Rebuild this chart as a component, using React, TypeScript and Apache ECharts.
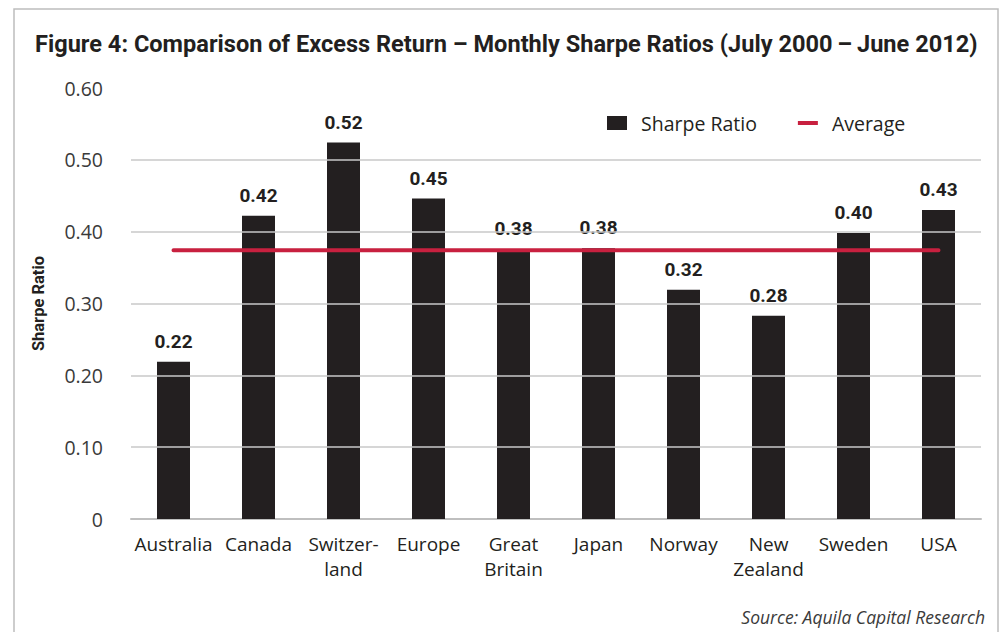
import React, { useEffect, useRef } from "react";
import * as echarts from "echarts";

const categories = ["Australia", "Canada", "Switzer-\nland", "Europe", "Great\nBritain", "Japan", "Norway", "New\nZealand", "Sweden", "USA"];
const sharpeValues = [0.219, 0.422, 0.524, 0.446, 0.376, 0.377, 0.319, 0.283, 0.398, 0.430];
const averageValue = 0.374;
const averageLine = categories.map(() => averageValue);
const gridValues = [0.1, 0.2, 0.3, 0.4, 0.5];
const titleText = "Figure 4: Comparison of Excess Return \u2013 Monthly Sharpe Ratios (July 2000\u2009\u2013\u2009June 2012)";
const sourceText = "Source: Aquila Capital Research";

const BAR = "#231f20";
const RED = "#c8203f";
const TXT = "#231f20";
const BOLDF = "Roboto, 'Noto Sans', sans-serif";
const REGULAR = "'Open Sans', 'Noto Sans', sans-serif";

function measure(text: string, font: string): number {
  const c = document.createElement("canvas").getContext("2d");
  if (!c) return 0;
  c.font = font;
  return c.measureText(text).width;
}

export default function App() {
  const ref = useRef<HTMLDivElement>(null);
  useEffect(() => {
    if (!ref.current) return;
    const chart = echarts.init(ref.current, null, { renderer: "svg" });
    const titleFont = "bold 24px Roboto";
    const tw = measure(titleText, titleFont) || 1000;
    const titleScale = 943 / tw;
    chart.setOption({
      animation: false,
      backgroundColor: "#ffffff",
      legend: {
        left: 602,
        top: 108,
        itemWidth: 20,
        itemHeight: 14,
        itemGap: 41,
        textStyle: { fontFamily: REGULAR, fontSize: 19.5, color: TXT, padding: [0, 0, 0, 9] },
        data: [
          { name: "Sharpe Ratio", icon: "rect" },
          { name: "Average", icon: "path://M0,0 L20,0 L20,4 L0,4 Z" },
        ],
      },
      graphic: [
        {
          type: "rect",
          shape: { x: 14, y: 9, width: 984, height: 700 },
          style: { fill: "none", stroke: "#bdbdbd", lineWidth: 1.5 },
          silent: true,
        },
        {
          type: "text",
          x: 35,
          y: 44,
          scaleX: titleScale,
          style: {
            text: titleText,
            x: 0,
            y: 0,
            font: titleFont,
            fill: TXT,
            align: "left",
            verticalAlign: "middle",
          },
          silent: true,
        },
        {
          type: "text",
          right: 20,
          top: 608,
          style: { text: sourceText, fontFamily: REGULAR, fontStyle: "italic", fontSize: 17.5, fill: "#3a3a3a" },
        },
      ],
      grid: { left: 131, right: 24, top: 88, bottom: 113 },
      xAxis: {
        type: "category",
        data: categories,
        axisLine: { lineStyle: { color: "#bfbfbf", width: 2 } },
        axisTick: { show: false },
        axisLabel: { fontFamily: REGULAR, fontSize: 19, color: TXT, lineHeight: 25, margin: 12, interval: 0 },
      },
      yAxis: {
        type: "value",
        min: 0,
        max: 0.6,
        interval: 0.1,
        name: "Sharpe Ratio",
        nameLocation: "middle",
        nameGap: 84,
        nameTextStyle: { fontFamily: BOLDF, fontWeight: "bold", fontSize: 16.5, color: TXT },
        axisLine: { show: false },
        axisTick: { show: false },
        splitLine: { show: false },
        axisLabel: {
          fontFamily: REGULAR,
          fontSize: 19.5,
          color: "#3a3a3a",
          margin: 28,
          formatter: (v: number) => (v === 0 ? "0" : v.toFixed(2)),
        },
      },
      series: [
        {
          name: "gridlines",
          type: "line",
          data: [],
          z: 1,
          silent: true,
          markLine: {
            silent: true,
            symbol: "none",
            label: { show: false },
            lineStyle: { color: "#c8c8c8", width: 1.5, type: "solid" },
            data: gridValues.map((v) => ({ yAxis: v })),
          },
        },
        {
          name: "Sharpe Ratio",
          type: "bar",
          data: sharpeValues,
          barWidth: 33,
          z: 2,
          itemStyle: { color: BAR },
          label: {
            show: true,
            position: "top",
            distance: 11,
            fontFamily: BOLDF,
            fontWeight: "bold",
            fontSize: 19,
            color: TXT,
            formatter: (p: any) => p.value.toFixed(2),
          },
        },
        {
          name: "Average",
          type: "line",
          data: averageLine,
          z: 3,
          symbol: "none",
          lineStyle: { color: RED, width: 4, cap: "round" },
          itemStyle: { color: RED },
        },
      ],
    });
    return () => chart.dispose();
  }, []);
  return <div ref={ref} style={{ position: "fixed", left: 0, top: 0, width: 1005, height: 632 }} />;
}
